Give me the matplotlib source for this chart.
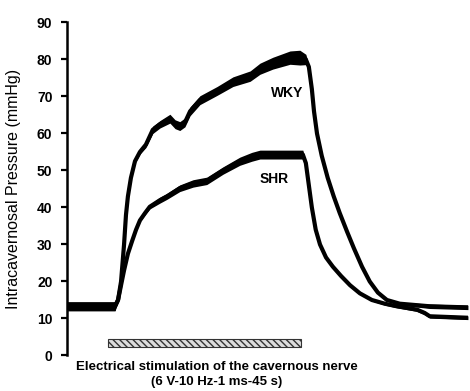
import matplotlib
matplotlib.use("Agg")
import matplotlib.pyplot as plt

plt.rcParams['font.family'] = ['Liberation Sans', 'DejaVu Sans']

# time (s) and pressure (mmHg)
wky_t = [0, 11.2, 11.9, 12.6, 13.3, 13.75, 14.2, 14.9, 15.85, 17.0, 18.4, 20.0,
         21.7, 24.0, 25.2, 26.3, 27.5, 28.7, 31.0, 35.0, 38.7, 42.7, 45.0, 48.0,
         52.0, 54.3, 55.7, 56.4, 57.1, 57.6, 58.3, 59.4, 60.8, 62.2, 63.6, 65.3,
         66.9, 68.8, 70.6, 72.5, 74.6, 77.6, 84.6, 93.5]
wky_p = [13.3, 13.3, 15, 20, 30, 38, 43, 48, 52.5, 55, 57, 61,
         62.5, 64, 62.5, 62, 63, 66, 69, 71.5, 74, 75.5, 77.5, 79,
         80.5, 80.5, 80, 78, 72, 66, 60, 54, 48, 43, 38.5, 33.5,
         29, 24, 20, 17, 15, 14, 13.3, 13]
# half-width of the noisy band around the trace
wky_noise = [1.2, 1.2, 0.3, 0, 0, 0, 0, 0.3, 0.5, 0.6, 0.8, 1.0,
             1.0, 1.2, 1.2, 1.2, 1.2, 1.2, 1.2, 1.2, 1.3, 1.4, 1.5, 1.6,
             1.8, 2.0, 1.4, 0.5, 0, 0, 0, 0, 0, 0, 0, 0,
             0, 0, 0, 0, 0.2, 0.4, 0.6, 0.6]

shr_t = [0, 11.2, 11.9, 12.6, 13.3, 14.2, 15.2, 16.1, 17.0, 18.2, 19.3, 21.7,
         23.3, 26.3, 29.4, 32.6, 36.4, 40.3, 43.1, 45.0, 55.0, 55.7, 56.4, 57.1,
         58.0, 59.0, 60.4, 62.0, 63.9, 66.0, 68.3, 71.1, 74.1, 76.9, 81.6, 83.4,
         84.6, 93.5]
shr_p = [13.3, 13.3, 15, 19, 23, 27.5, 31, 34, 36.5, 38.5, 40.2, 42,
         43, 45.2, 46.5, 47.2, 50, 52.5, 53.7, 54.3, 54.3, 52, 46, 40,
         34, 30, 26.5, 24, 21.5, 19, 16.8, 15, 14, 13.3, 12.4, 11.5,
         10.6, 10.2]
shr_noise = [1.2, 1.2, 0.3, 0, 0, 0, 0, 0, 0.3, 0.5, 0.6, 0.8,
             0.8, 0.9, 1.0, 1.0, 1.0, 1.1, 1.2, 1.2, 1.2, 0.6, 0, 0,
             0, 0, 0, 0, 0.2, 0.3, 0.3, 0.3, 0.4, 0.4, 0.5, 0.5,
             0.5, 0.5]

stim_start, stim_len = 9.6, 44.9
stim_y, stim_h = 2.3, 2.1

yticks = list(range(0, 100, 10))

fig = plt.figure(figsize=(4.70, 3.91), dpi=100)
ax = fig.add_axes([0.1426, 0.0908, 0.853, 0.8517])

for t, p, n in [(wky_t, wky_p, wky_noise), (shr_t, shr_p, shr_noise)]:
    lo = [a - b for a, b in zip(p, n)]
    hi = [a + b for a, b in zip(p, n)]
    ax.fill_between(t, lo, hi, color='black', lw=0)
    ax.plot(t, p, color='black', lw=3.0, solid_joinstyle='round')

ax.bar(stim_start, stim_h, width=stim_len, bottom=stim_y, align='edge',
       facecolor='#dddddd', edgecolor='#333333', hatch='\\\\\\\\\\', lw=0.8)

ax.text(51.3, 71, 'WKY', ha='center', va='center', fontsize=10, fontweight='bold')
ax.text(48.3, 47.6, 'SHR', ha='center', va='center', fontsize=10, fontweight='bold')

ax.set_xlim(0, 93.5)
ax.set_ylim(0, 90)
ax.set_yticks(yticks)
ax.set_xticks([])
for s in ['top', 'right', 'bottom']:
    ax.spines[s].set_visible(False)
ax.spines['left'].set_linewidth(1.8)
ax.tick_params(axis='y', direction='out', length=4.5, width=1.6, pad=6,
               labelsize=10)
for lab in ax.get_yticklabels():
    lab.set_fontweight('bold')
ax.set_ylabel('Intracavernosal Pressure (mmHg)', fontsize=11.5)
ax.yaxis.set_label_coords(-0.115, 0.5)

fig.text(0.4606, 0.0614, 'Electrical stimulation of the cavernous nerve',
         ha='center', va='center', fontsize=9.5, fontweight='bold')
fig.text(0.4606, 0.023, '(6 V-10 Hz-1 ms-45 s)',
         ha='center', va='center', fontsize=9.5, fontweight='bold')

fig.savefig('out.png', dpi=100)
